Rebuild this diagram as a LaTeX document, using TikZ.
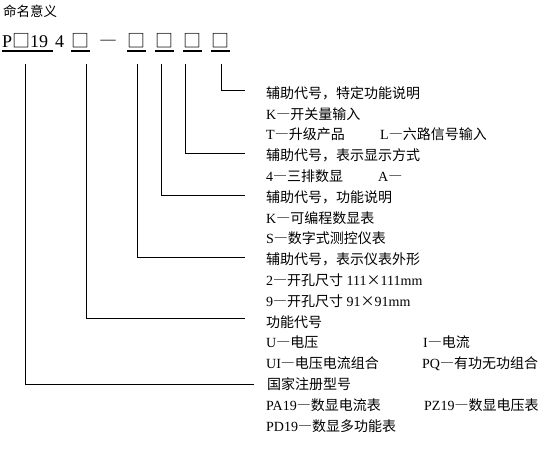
\documentclass[tikz,border=0pt]{standalone}
\usepackage{fontspec}
\setmainfont{Noto Sans CJK SC}[RawFeature=+fwid]
\newfontfamily\en{Liberation Serif}
\usetikzlibrary{positioning}

\begin{document}
\begin{tikzpicture}[
    x=1pt, y=1pt,
    title/.style={anchor=base west, inner sep=0pt, font=\fontsize{13.5pt}{16pt}\selectfont},
    code/.style={anchor=base, inner xsep=0pt, inner ysep=0pt, text depth=3.5pt, font=\fontsize{18pt}{20pt}\selectfont},
    box/.style={code, text width=19pt, align=center},
    item/.style={anchor=west, inner sep=0pt, text height=12.3pt, text depth=1.7pt, font=\fontsize{14pt}{17pt}\selectfont},
    ul/.style={line width=1.6pt},
    link/.style={line width=0.8pt}
]
    \useasboundingbox (0,0) rectangle (548,-472);

    \node[title] (head) at (3,-16) {命名意义};

    % model code
    \node[code, anchor=base west, text width=51pt, align=left] (c1) at (2,-47.5) {{\en P}□{\en 19}};
    \node[code, anchor=base west] (c0) at (55,-47.5) {{\en 4}};
    \node[box] (c2) at (80.5,-47.5) {□};
    \node[code] (dash) at (108,-47.5) {—};
    \node[box] (c3) at (136.5,-47.5) {□};
    \node[box] (c4) at (164.5,-47.5) {□};
    \node[box] (c5) at (192.5,-47.5) {□};
    \node[box] (c6) at (220.5,-47.5) {□};
    \foreach \c in {c1,c2,c3,c4,c5,c6}
        \draw[ul] (\c.south west) -- (\c.south east);

    % drop points
    \coordinate (d1) at (25,-64);
    \coordinate (d2) at (86,-64);
    \coordinate (d3) at (137.5,-64);
    \coordinate (d4) at (161.5,-64);
    \coordinate (d5) at (185.5,-64);
    \coordinate (d6) at (221,-64);

    % explanations
    \node[item] (aux1) at (266,-93) {辅助代号，特定功能说明};
    \node[item] (k1) at (266,-113.8) {{\en K}—开关量输入};
    \node[item] (t1) at (266,-134.6) {{\en T}—升级产品};
    \node[item] (l1) at (380,-134.6) {{\en L}—六路信号输入};
    \node[item] (aux2) at (266,-155.4) {辅助代号，表示显示方式};
    \node[item] (n4) at (266,-176.2) {{\en 4}—三排数显};
    \node[item] (a1) at (378,-176.2) {{\en A}—};
    \node[item] (aux3) at (266,-197) {辅助代号，功能说明};
    \node[item] (k2) at (266,-217.8) {{\en K}—可编程数显表};
    \node[item] (s1) at (266,-238.6) {{\en S}—数字式测控仪表};
    \node[item] (aux4) at (266,-259.4) {辅助代号，表示仪表外形};
    \node[item] (n2) at (266,-280.2) {{\en 2}—开孔尺寸{\en\ 111}×{\en 111mm}};
    \node[item] (n9) at (266,-301) {{\en 9}—开孔尺寸{\en\ 91}×{\en 91mm}};
    \node[item] (func) at (266,-321.8) {功能代号};
    \node[item] (u1) at (266,-342.6) {{\en U}—电压};
    \node[item] (i1) at (423,-342.6) {{\en I}—电流};
    \node[item] (ui1) at (266,-363.4) {{\en UI}—电压电流组合};
    \node[item] (pq1) at (422,-363.4) {{\en PQ}—有功无功组合};
    \node[item] (reg) at (267,-384.2) {国家注册型号};
    \node[item] (pa1) at (266,-405) {{\en PA19}—数显电流表};
    \node[item] (pz1) at (424,-405) {{\en PZ19}—数显电压表};
    \node[item] (pd1) at (266,-425.8) {{\en PD19}—数显多功能表};

    % connectors
    \draw[link] (d6) |- ([xshift=-21pt,yshift=3pt]aux1.west);
    \draw[link] (d5) |- ([xshift=-21pt,yshift=2.5pt]aux2.west);
    \draw[link] (d4) |- ([xshift=-21pt,yshift=2pt]aux3.west);
    \draw[link] (d3) |- ([xshift=-21pt,yshift=2.5pt]aux4.west);
    \draw[link] (d2) |- ([xshift=-21pt,yshift=3pt]func.west);
    \draw[link] (d1) |- ([xshift=-13pt]reg.west);
\end{tikzpicture}
\end{document}
